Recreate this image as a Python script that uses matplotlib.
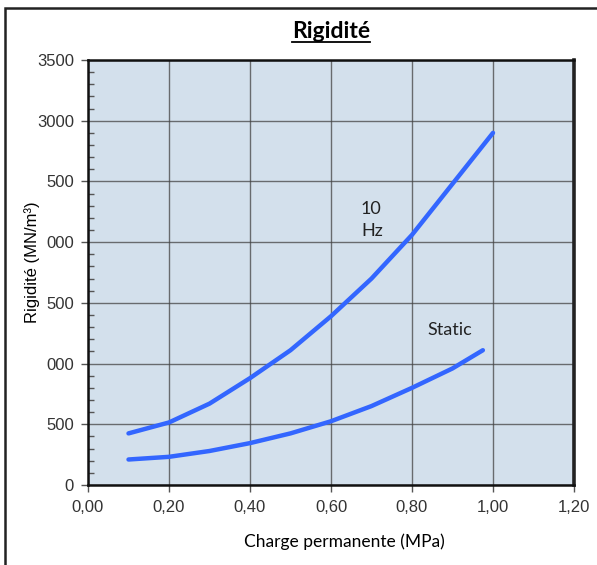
import numpy as np
import matplotlib.pyplot as plt
from matplotlib.lines import Line2D
from matplotlib.patches import Rectangle

# data
charge_10hz = [0.10, 0.20, 0.30, 0.40, 0.50, 0.60, 0.70, 0.80, 0.90, 1.00]
rigid_10hz = [425, 515, 670, 880, 1110, 1390, 1700, 2060, 2480, 2900]
charge_static = [0.10, 0.20, 0.30, 0.40, 0.50, 0.60, 0.70, 0.80, 0.90, 0.975]
rigid_static = [210, 232, 280, 345, 425, 525, 650, 800, 960, 1110]

x_ticks = [0.0, 0.2, 0.4, 0.6, 0.8, 1.0, 1.2]
x_labels = ['0,00', '0,20', '0,40', '0,60', '0,80', '1,00', '1,20']
y_ticks = [0, 500, 1000, 1500, 2000, 2500, 3000, 3500]
y_labels = ['0', '500', '000', '500', '000', '500', '3000', '3500']

plt.rcParams['font.family'] = ['Liberation Sans', 'DejaVu Sans']

W, H = 597, 565
fig = plt.figure(figsize=(W / 100, H / 100), dpi=100)

# frame around the whole figure (cut at right and bottom like the picture)
fig.patches.append(Rectangle((5 / W, -0.05), 1.1, 1 - 8 / H + 0.05,
                             transform=fig.transFigure, fill=False,
                             edgecolor='#222222', linewidth=1.8))

ax = fig.add_axes([88 / W, 1 - 485 / H, (574 - 88) / W, (485 - 60) / H])
ax.set_facecolor('#d3e0ec')

ax.plot(charge_10hz, rigid_10hz, color='#3366ff', linewidth=3.2, solid_capstyle='round')
ax.plot(charge_static, rigid_static, color='#3366ff', linewidth=3.2, solid_capstyle='round')

tick_font = {'family': 'Liberation Sans', 'size': 12, 'color': '#333333'}
ax.set_xlim(0, 1.2)
ax.set_ylim(0, 3500)
ax.set_xticks(x_ticks)
ax.set_xticklabels(x_labels, fontdict=tick_font)
ax.set_yticks(y_ticks)
ax.set_yticklabels(y_labels, fontdict=tick_font)
ax.set_yticks(np.arange(0, 3501, 100), minor=True)

ax.tick_params(axis='both', which='major', direction='out', length=5, width=1, color='#555555')
ax.tick_params(axis='x', pad=6)
ax.tick_params(axis='y', pad=5)
ax.tick_params(axis='y', which='minor', direction='in', length=4, width=1, color='#555555')

ax.grid(True, which='major', color='#444444', linewidth=1, alpha=0.75)
ax.set_axisbelow(True)

for side in ['left', 'bottom', 'top']:
    ax.spines[side].set_linewidth(1.8)
    ax.spines[side].set_color('#111111')
ax.spines['right'].set_linewidth(2.6)
ax.spines['right'].set_color('#222222')

ax.text(0.674, 2183, '10\nHz', family='Lato', fontsize=13, color='#222222',
        ha='left', va='center', linespacing=1.4)
ax.text(0.837, 1277, 'Static', family='Lato', fontsize=13, color='#222222',
        ha='left', va='center')

ax.set_xlabel('Charge permanente (MPa)', family='Lato', fontsize=12.5)
ax.xaxis.set_label_coords(0.527, -0.113)
ax.set_ylabel('Rigidité (MN/m³)', family='Liberation Sans', fontsize=12)
ax.yaxis.set_label_coords(-0.098, 0.525)

# title with underline
fig.text(331 / W, 1 - 31 / H, 'Rigidité', family='Lato', weight='bold',
         fontsize=16.5, ha='center', va='center')
fig.add_artist(Line2D([292 / W, 370 / W], [1 - 42 / H, 1 - 42 / H],
                      transform=fig.transFigure, color='black', linewidth=1.3))

fig.savefig('out.png', dpi=100)
